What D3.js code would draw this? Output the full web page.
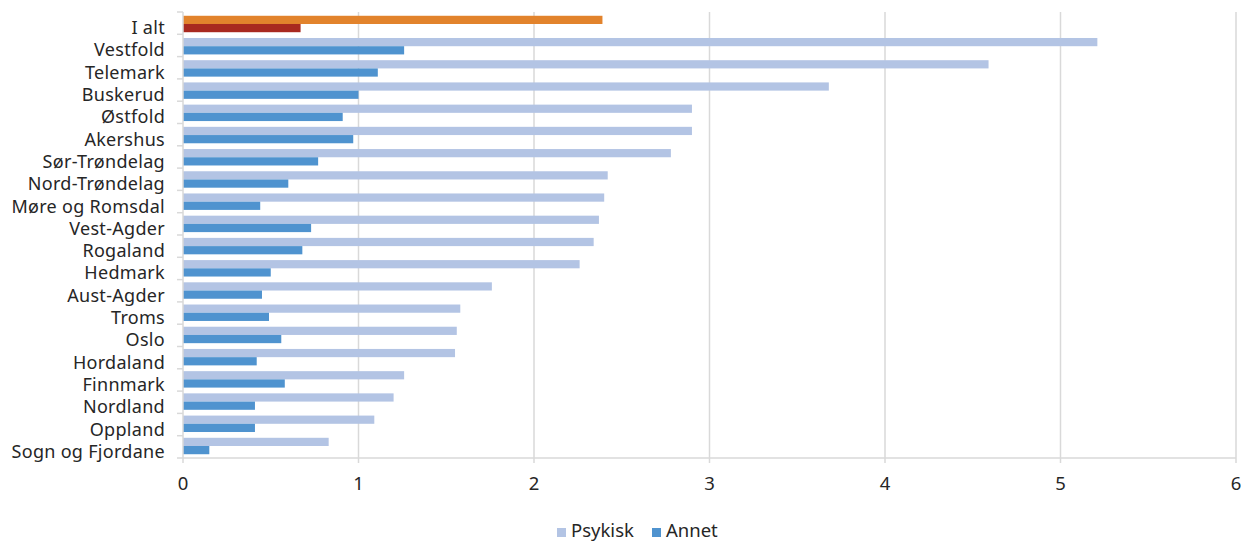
<!DOCTYPE html>
<html>
<head>
<meta charset="utf-8">
<script src="https://cdn.jsdelivr.net/npm/d3@7"></script>
<style>
  html, body { margin: 0; padding: 0; background: #fff; }
  svg { display: block; font-family: "Noto Sans", sans-serif; }
</style>
</head>
<body>
<svg id="chart" width="1241" height="542"></svg>
<script>
const categories = ["I alt", "Vestfold", "Telemark", "Buskerud", "Østfold", "Akershus",
  "Sør-Trøndelag", "Nord-Trøndelag", "Møre og Romsdal", "Vest-Agder", "Rogaland",
  "Hedmark", "Aust-Agder", "Troms", "Oslo", "Hordaland", "Finnmark", "Nordland",
  "Oppland", "Sogn og Fjordane"];
const psykisk = [2.39, 5.21, 4.59, 3.68, 2.90, 2.90, 2.78, 2.42, 2.40, 2.37, 2.34,
  2.26, 1.76, 1.58, 1.56, 1.55, 1.26, 1.20, 1.09, 0.83];
const annet = [0.67, 1.26, 1.11, 1.00, 0.91, 0.97, 0.77, 0.60, 0.44, 0.73, 0.68,
  0.50, 0.45, 0.49, 0.56, 0.42, 0.58, 0.41, 0.41, 0.15];
const seriesNames = ["Psykisk", "Annet"];
const xTicks = [0, 1, 2, 3, 4, 5, 6];

const colors = { Psykisk: "#b3c4e4", Annet: "#4f93cf" };
const totalColors = { Psykisk: "#e2832c", Annet: "#a8291f" };
const textColor = "#262626";
const gridColor = "#d9d9d9";

const svg = d3.select("#chart");
const mLeft = 183, mRight = 1236, mTop = 12, mBottom = 458;

const x = d3.scaleLinear().domain([0, 6]).range([mLeft, mRight]);
const yOuter = d3.scaleBand().domain(categories).range([mTop, mBottom]).padding(0);
const y = d3.scaleBand().domain(categories).range([mTop, mBottom])
  .paddingInner(0.26).paddingOuter(0.17);
const ySub = d3.scaleBand().domain(seriesNames).range([0, y.bandwidth()]).padding(0);

// vertical gridlines
svg.append("g").selectAll("line").data(xTicks.filter(d => d > 0)).join("line")
  .attr("x1", d => x(d)).attr("x2", d => x(d))
  .attr("y1", mTop).attr("y2", mBottom + 5)
  .attr("stroke", gridColor).attr("stroke-width", 1.5);

// bars
const rows = categories.map((c, i) => ({ cat: c, i, values: [psykisk[i], annet[i]] }));
const g = svg.append("g");
rows.forEach(r => {
  seriesNames.forEach((s, k) => {
    g.append("rect")
      .attr("x", x(0))
      .attr("y", y(r.cat) + ySub(s))
      .attr("width", x(r.values[k]) - x(0))
      .attr("height", ySub.bandwidth())
      .attr("fill", r.i === 0 ? totalColors[s] : colors[s]);
  });
});

// left axis line + ticks at band boundaries
svg.append("line").attr("x1", mLeft).attr("x2", mLeft).attr("y1", mTop).attr("y2", mBottom + 5)
  .attr("stroke", gridColor).attr("stroke-width", 1.5);
const bounds = categories.map(c => yOuter(c)).concat([mBottom]);
svg.append("g").selectAll("line").data(bounds).join("line")
  .attr("x1", mLeft - 6).attr("x2", mLeft)
  .attr("y1", d => d).attr("y2", d => d)
  .attr("stroke", gridColor).attr("stroke-width", 1.5);
// bottom axis line
svg.append("line").attr("x1", mLeft).attr("x2", mRight).attr("y1", mBottom).attr("y2", mBottom)
  .attr("stroke", gridColor).attr("stroke-width", 1.5);

// category labels
svg.append("g").selectAll("text").data(categories).join("text")
  .attr("x", 165)
  .attr("y", d => yOuter(d) + yOuter.bandwidth() / 2 + 11)
  .attr("text-anchor", "end")
  .attr("font-size", 18)
  .attr("letter-spacing", 0.3)
  .attr("fill", textColor)
  .text(d => d);

// x tick labels
svg.append("g").selectAll("text").data(xTicks).join("text")
  .attr("x", d => x(d))
  .attr("y", 490)
  .attr("text-anchor", "middle")
  .attr("font-size", 18.5)
  .attr("fill", textColor)
  .text(d => d);

// legend
const legend = svg.append("g");
const legendItems = [
  { name: "Psykisk", sx: 557, tx: 571 },
  { name: "Annet", sx: 652, tx: 666 }
];
legendItems.forEach(it => {
  legend.append("rect").attr("x", it.sx).attr("y", 528).attr("width", 9).attr("height", 9)
    .attr("fill", colors[it.name]);
  legend.append("text").attr("x", it.tx).attr("y", 537).attr("font-size", 18.5)
    .attr("fill", textColor).text(it.name);
});
</script>
</body>
</html>
